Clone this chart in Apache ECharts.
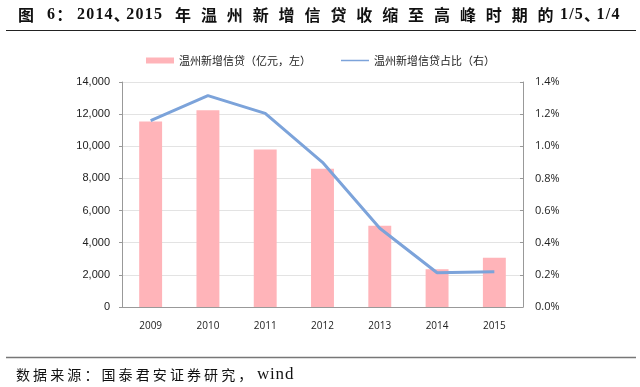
<!DOCTYPE html>
<html><head><meta charset="utf-8">
<script src="https://cdn.jsdelivr.net/npm/echarts@6/dist/echarts.min.js"></script>
<style>html,body{margin:0;padding:0;background:#fff;}#c{width:640px;height:387px;}</style>
</head><body><div id="c"></div>
<script>
const categories = ['2009','2010','2011','2012','2013','2014','2015'];
const loanValues = [11550, 12250, 9800, 8600, 5060, 2350, 3060];
const shareValues = [1.16, 1.315, 1.205, 0.90, 0.49, 0.213, 0.22];
const leftTicks = [0, 14000, 2000];
const rightTicks = [0, 1.4, 0.2];
const titleParts = ['图', '6：', '2014、2015', '年温州新增信贷收缩至高峰时期的', '1/5、1/4'];
const sourceParts = ['数据来源：国泰君安证券研究，', 'wind'];

const mctx = document.createElement('canvas').getContext('2d');
function isCJK(c){ return /[\u3000-\u9fff\uff00-\uffef]/.test(c); }
function spacedText(parts, xs, y, o){
  const out = [];
  parts.forEach((str, i) => {
    let cur = xs[i];
    for (const ch of str) {
      const cjk = isCJK(ch);
      const font = cjk ? o.cjkFont : o.latinFont;
      out.push({type:'text', x: cur, y: y, silent: true,
        style:{text: ch, font: font, fill: o.color, verticalAlign: 'middle'}});
      let adv;
      if (cjk) adv = (ch === '、') ? o.commaAdv : o.cjkPitch;
      else { mctx.font = font; adv = mctx.measureText(ch).width + o.latinSpacing; }
      cur += adv;
    }
  });
  return out;
}

const titleEls = spacedText(titleParts, [18, 47, 77, 175, 560], 15, {
  cjkFont: 'bold 16px "Noto Sans CJK SC", sans-serif',
  latinFont: 'bold 16px "Liberation Serif", serif',
  color: '#111', cjkPitch: 25.9, commaAdv: 12.5, latinSpacing: 1.2});
const sourceEls = spacedText(sourceParts, [16, 257], 375, {
  cjkFont: '14px "Noto Sans CJK SC", sans-serif',
  latinFont: '17px "Liberation Serif", serif',
  color: '#111', cjkPitch: 17.1, commaAdv: 17.1, latinSpacing: 0.8});

const chart = echarts.init(document.getElementById('c'));
const cjk = '"Noto Sans CJK SC", sans-serif';
chart.setOption({
  animation: false,
  textStyle: {fontFamily: cjk},
  graphic: [
    {type: 'line', shape: {x1: 6, y1: 30.5, x2: 636, y2: 30.5}, style: {stroke: '#222', lineWidth: 1.2}},
    {type: 'line', shape: {x1: 6, y1: 357.5, x2: 636, y2: 357.5}, style: {stroke: '#777', lineWidth: 1.5}}
  ].concat(titleEls, sourceEls),
  legend: {
    top: 50, left: 141, itemGap: 30, itemWidth: 28, itemHeight: 6,
    textStyle: {fontSize: 11, color: '#222'},
    data: [
      {name: '温州新增信贷（亿元，左）', icon: 'rect'},
      {name: '温州新增信贷占比（右）', icon: 'path://M0 0H28V1.5H0Z'}
    ]
  },
  grid: {left: 122, right: 117, top: 82, bottom: 80},
  xAxis: {
    type: 'category', data: categories,
    axisLine: {lineStyle: {color: '#999'}},
    axisTick: {show: false},
    axisLabel: {fontSize: 10, color: '#222', margin: 14, fontFamily: '"Open Sans", sans-serif'}
  },
  yAxis: [
    {type: 'value', min: leftTicks[0], max: leftTicks[1], interval: leftTicks[2],
     axisLine: {show: true, lineStyle: {color: '#999'}},
     axisTick: {show: true, inside: false, length: 3, lineStyle: {color: '#999'}},
     splitLine: {lineStyle: {color: '#e3e3e3'}},
     axisLabel: {fontSize: 11, color: '#222', margin: 12, fontFamily: '"Liberation Sans", Arial, sans-serif',
       formatter: v => v.toLocaleString('en-US')}},
    {type: 'value', min: rightTicks[0], max: rightTicks[1], interval: rightTicks[2],
     axisLine: {show: true, lineStyle: {color: '#999'}},
     axisTick: {show: true, inside: true, length: 3, lineStyle: {color: '#999'}},
     splitLine: {show: false},
     axisLabel: {fontSize: 11, color: '#222', margin: 12, fontFamily: '"Open Sans", sans-serif',
       formatter: v => v.toFixed(1) + '%'}}
  ],
  series: [
    {name: '温州新增信贷（亿元，左）', type: 'bar', data: loanValues, barWidth: '40%',
     itemStyle: {color: '#ffb4b9'}},
    {name: '温州新增信贷占比（右）', type: 'line', yAxisIndex: 1, data: shareValues,
     symbol: 'none', lineStyle: {color: '#7ca3da', width: 3}, itemStyle: {color: '#7ca3da'}}
  ]
});
</script></body></html>
